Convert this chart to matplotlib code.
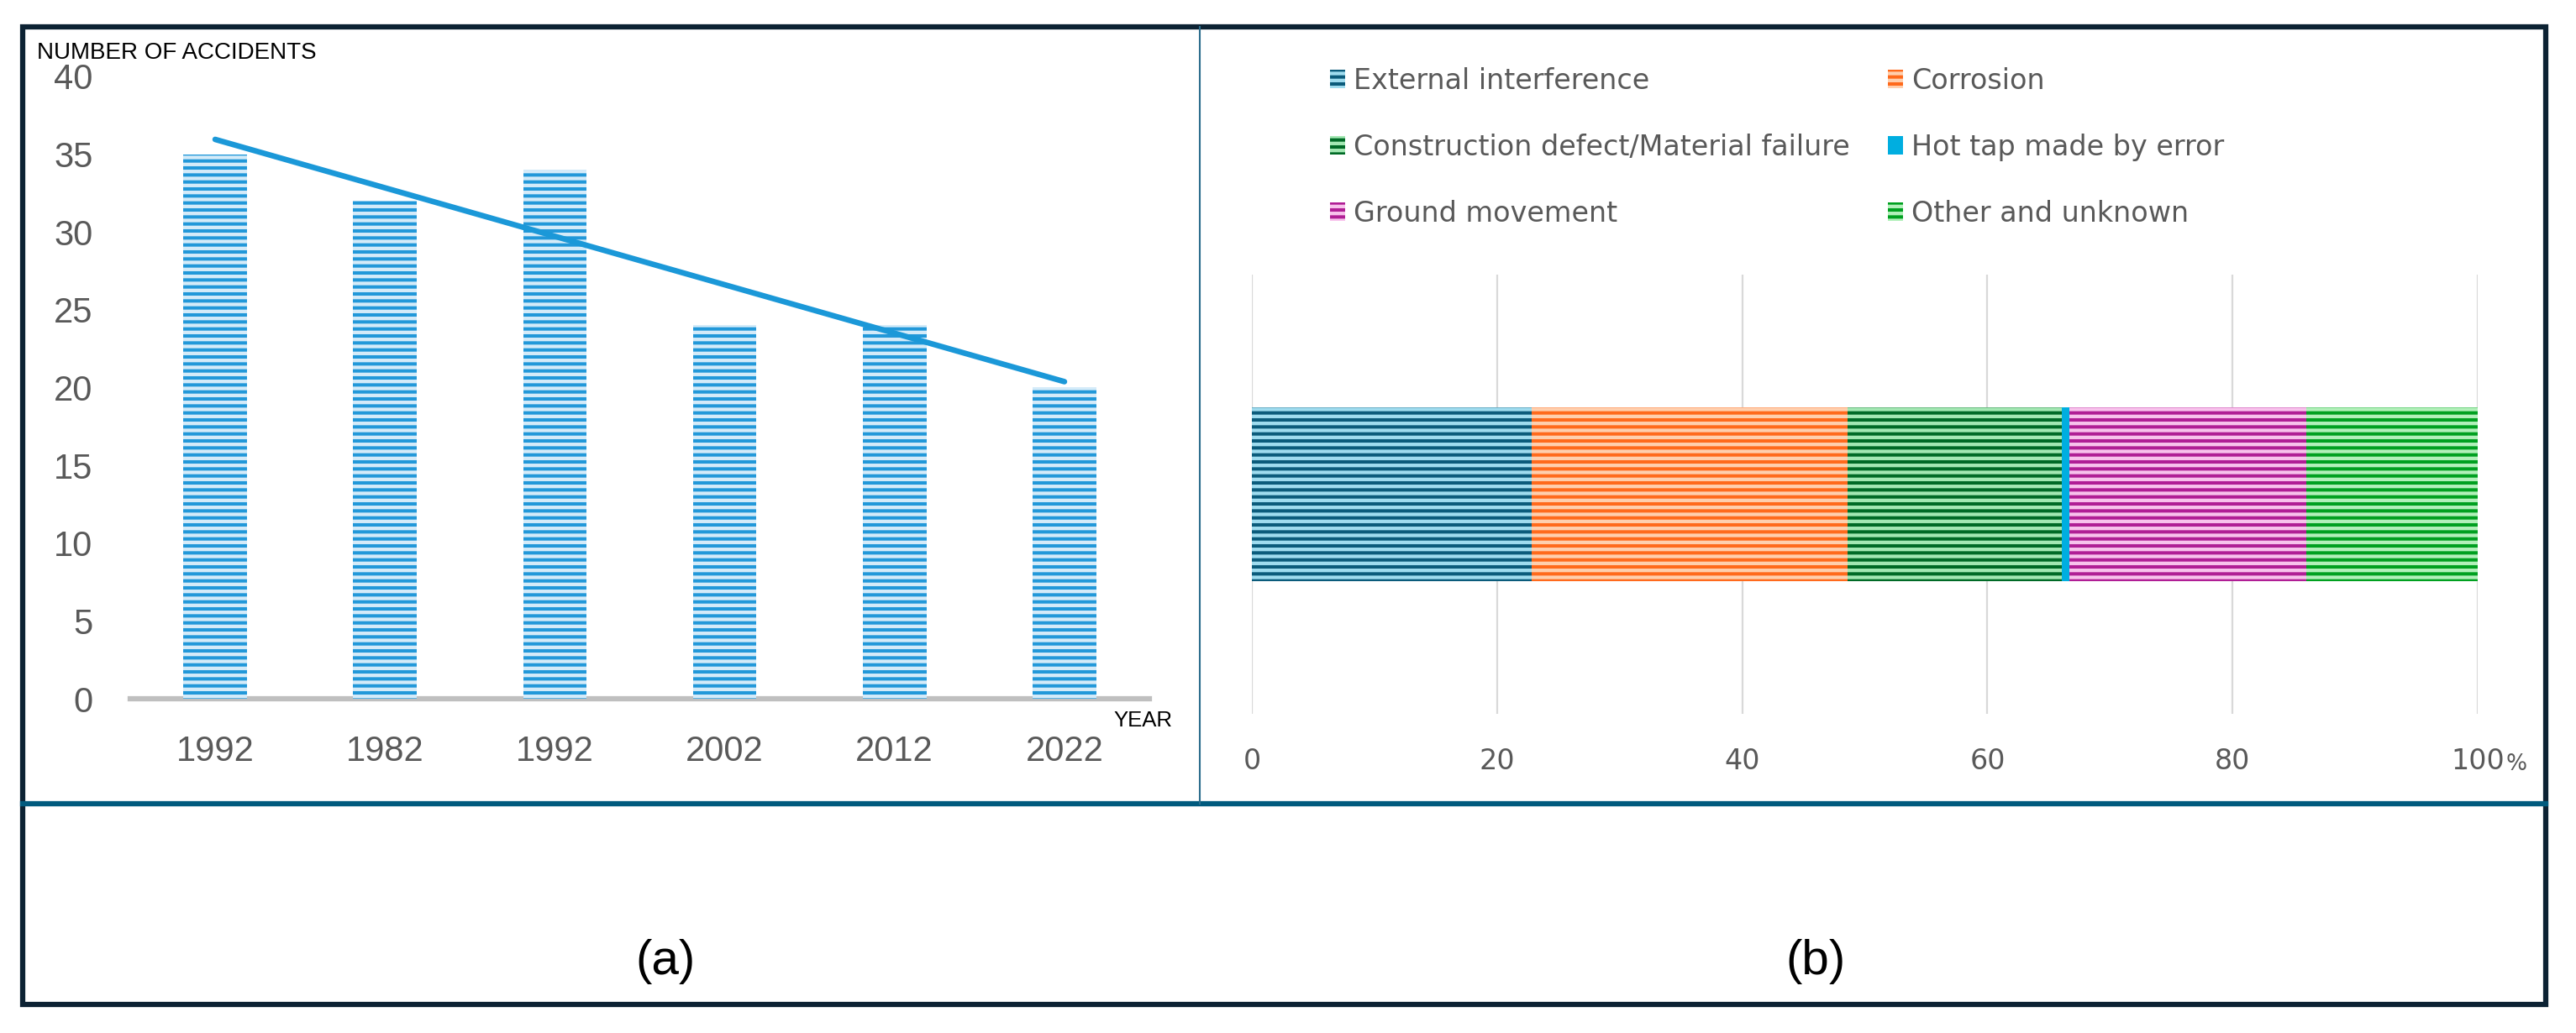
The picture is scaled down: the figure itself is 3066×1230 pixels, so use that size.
import matplotlib
matplotlib.use("Agg")
import matplotlib.pyplot as plt
from matplotlib.patches import Rectangle
from matplotlib.lines import Line2D
import numpy as np

# (a) accidents per decade
years = ["1992", "1982", "1992", "2002", "2012", "2022"]
accidents = [35, 32, 34, 24, 24, 20]

# (b) share of causes in %
causes = ["External interference", "Corrosion", "Construction defect/Material failure",
          "Hot tap made by error", "Ground movement", "Other and unknown"]
shares = [22.8, 25.8, 17.5, 0.6, 19.3, 14.0]
cause_dark = ["#0b5b7b", "#ff6a1c", "#006a26", "#00aee0", "#b01e95", "#00a020"]
cause_light = ["#9fdcef", "#ffcfae", "#a3e8b3", "#00aee0", "#f8c2ec", "#b2f0ba"]

W, H = 3066, 1230
plt.rcParams["hatch.linewidth"] = 3.1

fig = plt.figure(figsize=(W / 100, H / 100), dpi=100)

# ---- left panel
ax1 = fig.add_axes([155 / W, 1 - 832 / H, (1368 - 155) / W, (832 - 91) / H])
x = np.arange(len(years))
ax1.bar(x, accidents, width=0.375, color="#2298d9", edgecolor="#d4ebf9",
        linewidth=0, hatch="--", zorder=2)
# linear trend line over the bars
k, b = np.polyfit(x, accidents, 1)
ax1.plot([x[0], x[-1]], [k * x[0] + b, k * x[-1] + b], color="#1b98d8",
         lw=4.8, solid_capstyle="round", zorder=3)
ax1.set_xlim(-0.5, 5.5)
ax1.set_ylim(0, 40)
ax1.set_yticks(range(0, 41, 5))
ax1.set_xticks(x)
ax1.set_xticklabels(years)
for s in ["top", "right", "left"]:
    ax1.spines[s].set_visible(False)
ax1.spines["bottom"].set_color("#bfbfbf")
ax1.spines["bottom"].set_linewidth(4.5)
ax1.spines["bottom"].set_zorder(1)
ax1.tick_params(axis="both", length=0, labelsize=30, labelcolor="#595959")
ax1.tick_params(axis="x", pad=31)
ax1.tick_params(axis="y", pad=32)
for lab in ax1.get_xticklabels() + ax1.get_yticklabels():
    lab.set_fontfamily("Liberation Sans")

fig.text(44 / W, 1 - 63 / H, "NUMBER OF ACCIDENTS", fontsize=20,
         family="Liberation Sans", va="center", ha="left", color="black")
fig.text(1325 / W, 1 - 858 / H, "YEAR", fontsize=18.5,
         family="Liberation Sans", va="center", ha="left", color="black")

# ---- right panel
ax2 = fig.add_axes([1490 / W, 1 - 850 / H, (2949 - 1490) / W, (850 - 327) / H])
left = 0
handles = []
for name, val, dk, lt in zip(causes, shares, cause_dark, cause_light):
    bars = ax2.barh(0, val, left=left, height=0.396, color=dk, edgecolor=lt,
                    linewidth=0, hatch="--" if dk != lt else None, label=name,
                    zorder=2)
    handles.append(bars)
    left += val
ax2.set_xlim(0, 100)
ax2.set_ylim(-0.5, 0.5)
ax2.set_yticks([])
ax2.set_xticks([0, 20, 40, 60, 80, 100])
ax2.set_xticklabels(["0", "20", "40", "60", "80", "100"])
ax2.grid(axis="x", color="#d9d9d9", lw=1.6)
ax2.set_axisbelow(True)
for s in ax2.spines.values():
    s.set_visible(False)
ax2.tick_params(axis="x", length=0, labelsize=24, labelcolor="#595959", pad=29)
fig.text(2983 / W, 1 - 917 / H, "%", fontsize=19, color="#595959",
         va="baseline", ha="left")

order = [0, 2, 4, 1, 3, 5]
leg = ax2.legend([handles[i] for i in order], [causes[i] for i in order],
                 ncol=2, loc="upper left", bbox_to_anchor=(1583 / W, 1 - 80 / H),
                 bbox_transform=fig.transFigure, frameon=False, fontsize=24,
                 borderpad=0, borderaxespad=0, handlelength=0.55,
                 handleheight=0.65, handletextpad=0.3, columnspacing=1.35,
                 labelspacing=1.38)
for t in leg.get_texts():
    t.set_color("#595959")

# ---- frame
fig.add_artist(Rectangle((27 / W, 1 - 1196 / H), (3030 - 27) / W, (1196 - 32) / H,
                         transform=fig.transFigure, fill=False,
                         edgecolor="#0c2233", lw=4.5))
fig.add_artist(Line2D([27 / W, 3030 / W], [1 - 957 / H, 1 - 957 / H],
                      transform=fig.transFigure, color="#005a7e", lw=4.5))
fig.add_artist(Line2D([1428 / W, 1428 / W], [1 - 957 / H, 1 - 32 / H],
                      transform=fig.transFigure, color="#2b6d8c", lw=1.5))

fig.text(792 / W, 1 - 1145 / H, "(a)", fontsize=42, family="Liberation Sans",
         ha="center", va="center")
fig.text(2161 / W, 1 - 1145 / H, "(b)", fontsize=42, family="Liberation Sans",
         ha="center", va="center")

fig.savefig("out.png", dpi=100)
